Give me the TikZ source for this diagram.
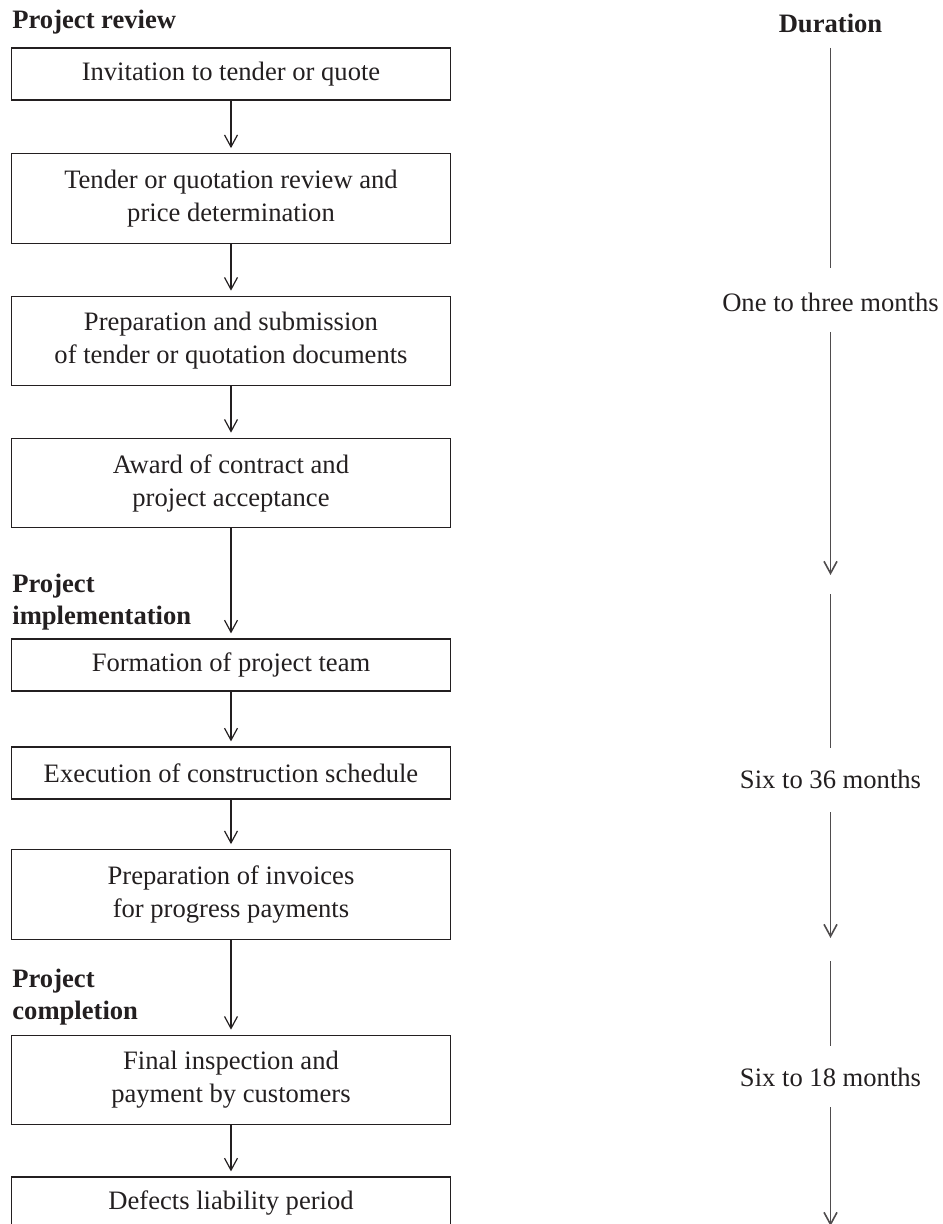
\documentclass[tikz,border=0pt]{standalone}
\usepackage{fontspec}
\setmainfont{Liberation Serif}
\usetikzlibrary{arrows.meta}
\definecolor{ink}{RGB}{35,31,32}

\begin{document}
\begin{tikzpicture}[x=0.5pt,y=-0.5pt]
\tikzstyle{stage}=[draw=ink, line width=0.6pt, text=ink, minimum width=219.5pt, minimum height=26pt, inner sep=0pt, align=center, font=\fontsize{13.3}{16.5}\selectfont]
\tikzstyle{tall}=[minimum height=44.75pt]
\tikzstyle{head}=[text=ink, inner sep=0pt, align=left, font=\fontsize{13.3}{16}\selectfont\bfseries]
\tikzstyle{span}=[text=ink, inner sep=0pt, font=\fontsize{13.3}{16.5}\selectfont]
\tikzstyle{barb}=[-{Straight Barb[length=6pt,width=6.5pt]}]
\tikzstyle{flow}=[draw=ink, line width=0.6pt, barb, shorten >=2.5pt]
\tikzstyle{time}=[draw=ink!80, line width=0.8pt]
\useasboundingbox (0,0) rectangle (942,1224);

% phases
\node[head, anchor=west] (review) at (12,22) {Project review};
\node[head, anchor=west] (implement) at (12,602) {Project\\implementation};
\node[head, anchor=west] (complete) at (12,997) {Project\\completion};

% stages of the contract
\node[stage] (s1) at (231,74) {Invitation to tender or quote};
\node[stage, tall] (s2) at (231,198.5) {Tender or quotation review and\\price determination};
\node[stage, tall] (s3) at (231,341) {Preparation and submission\\of tender or quotation documents};
\node[stage, tall] (s4) at (231,483) {Award of contract and\\project acceptance};
\node[stage] (s5) at (231,665) {Formation of project team};
\node[stage] (s6) at (231,773) {Execution of construction schedule};
\node[stage, tall] (s7) at (231,894.5) {Preparation of invoices\\for progress payments};
\node[stage, tall] (s8) at (231,1080) {Final inspection and\\payment by customers};
\node[stage] (s9) at (231,1203) {Defects liability period};

\foreach \a/\b in {s1/s2,s2/s3,s3/s4,s4/s5,s5/s6,s6/s7,s7/s8,s8/s9}
  \draw[flow] (\a) -- (\b);

% duration
\node[head] (dur) at (830.5,23) {Duration};
\node[span] (t1) at (830.5,302) {One to three months};
\node[span] (t2) at (830.5,779) {Six to 36 months};
\node[span] (t3) at (830.5,1077) {Six to 18 months};

\coordinate (a1) at (830.5,48);
\coordinate (a2) at (830.5,268);
\coordinate (b1) at (830.5,332);
\coordinate (b2) at (830.5,575);
\coordinate (c1) at (830.5,594);
\coordinate (c2) at (830.5,748);
\coordinate (d1) at (830.5,812);
\coordinate (d2) at (830.5,938);
\coordinate (e1) at (830.5,961);
\coordinate (e2) at (830.5,1046);
\coordinate (f1) at (830.5,1107);
\coordinate (f2) at (830.5,1226);

\draw[time] (a1) -- (a2);
\draw[time, barb] (b1) -- (b2);
\draw[time] (c1) -- (c2);
\draw[time, barb] (d1) -- (d2);
\draw[time] (e1) -- (e2);
\draw[time, barb] (f1) -- (f2);
\end{tikzpicture}
\end{document}
